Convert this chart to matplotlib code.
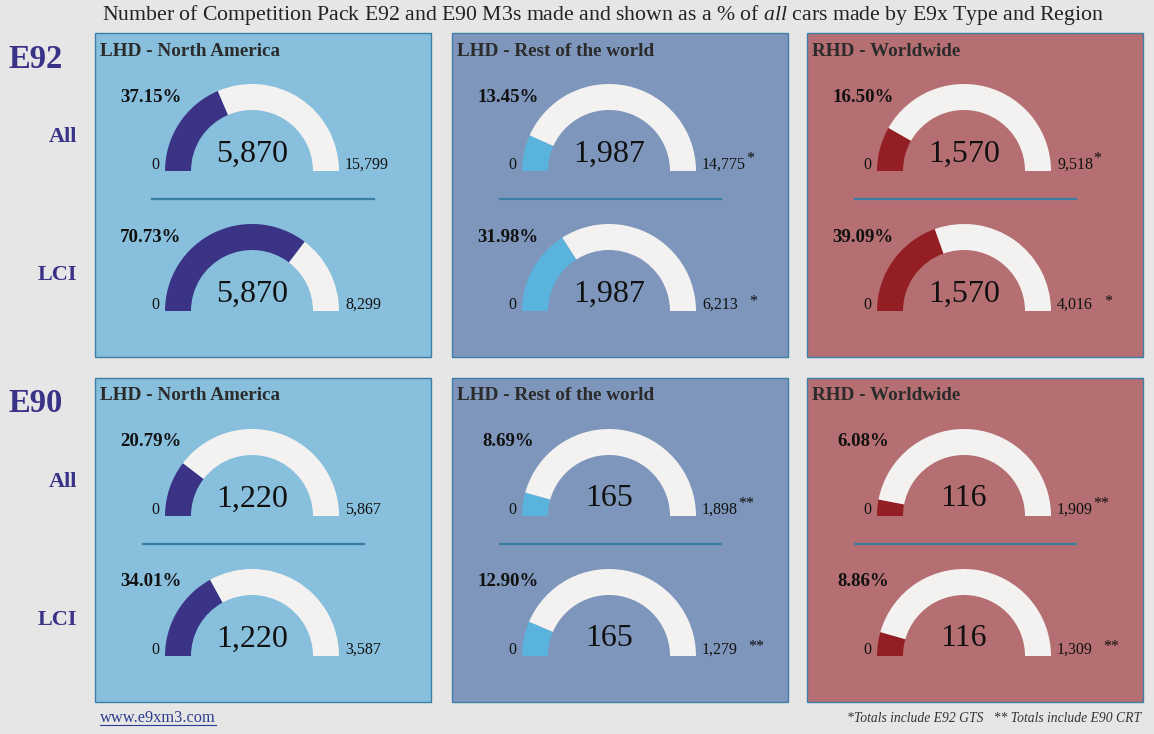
import matplotlib
matplotlib.use('Agg')
import matplotlib.pyplot as plt
from matplotlib.patches import Rectangle, Wedge

plt.rcParams['font.family'] = ['Liberation Serif', 'DejaVu Serif']
plt.rcParams['mathtext.fontset'] = 'custom'
plt.rcParams['mathtext.rm'] = 'Liberation Serif'
plt.rcParams['mathtext.it'] = 'Liberation Serif:italic'

# data
models = ['E92', 'E90']
regions = ['LHD - North America', 'LHD - Rest of the world', 'RHD - Worldwide']
trims = ['All', 'LCI']

e92_made = [5870, 1987, 1570]
e92_all = [15799, 14775, 9518]
e92_lci = [8299, 6213, 4016]
e92_marks = ['', '*', '*']

e90_made = [1220, 165, 116]
e90_all = [5867, 1898, 1909]
e90_lci = [3587, 1279, 1309]
e90_marks = ['', '**', '**']

made = [e92_made, e90_made]
totals = [[e92_all, e92_lci], [e90_all, e90_lci]]
marks = [e92_marks, e90_marks]

# styles
bg = '#e6e6e6'
panel_colors = ['#87bfdc', '#7e96bb', '#b56f72']
fill_colors = ['#3a3386', '#5ab3dc', '#931f25']
track = '#f3f2f1'
edge = '#3d7fa8'
label_col = '#3a3287'

fig = plt.figure(figsize=(11.54, 7.34), dpi=100, facecolor=bg)
ax = fig.add_axes([0, 0, 1, 1])
ax.set_xlim(0, 1154)
ax.set_ylim(734, 0)
ax.axis('off')

panel_x = [95, 452, 807]
row_y = [33, 378]
pw, ph = 336, 324
R, W = 87, 26
sep_off = {(0, 0): (57, 279)}

for m, model in enumerate(models):
    py = row_y[m]
    ax.text(36, py + 26, model, fontsize=23.5, fontweight='bold', color=label_col,
            ha='center', va='center')
    for t, trim in enumerate(trims):
        ax.text(77, py + 104 + t * 138, trim, fontsize=16, fontweight='bold',
                color=label_col, ha='right', va='center')
    for r, region in enumerate(regions):
        px = panel_x[r]
        ax.add_patch(Rectangle((px, py), pw, ph, facecolor=panel_colors[r],
                               edgecolor=edge, lw=1.0))
        ax.text(px + 5, py + 18, region, fontsize=13.8, fontweight='bold',
                color='#2b2b2b', ha='left', va='center')
        s0, s1 = sep_off.get((m, r), (48, 269))
        ax.plot([px + s0, px + s1], [py + 166, py + 166], color='#3a7fa3', lw=1.6)
        cx = px + 157
        for t in range(2):
            cy = py + 138 + t * 140
            n = made[m][r]
            tot = totals[m][t][r]
            frac = n / tot
            ang = 180 + 180 * frac
            ax.add_patch(Wedge((cx, cy), R, 180, ang, width=W,
                               facecolor=fill_colors[r], edgecolor='none'))
            ax.add_patch(Wedge((cx, cy), R, ang, 360, width=W,
                               facecolor=track, edgecolor='none'))
            ax.text(cx - 101, cy - 74, f'{frac * 100:.2f}%', fontsize=13.6,
                    fontweight='bold', color='#111111', ha='center', va='center')
            ax.text(cx, cy - 17, f'{n:,}', fontsize=23, color='#111111',
                    ha='center', va='center')
            ax.text(cx - 93, cy - 6, '0', fontsize=11.5, color='#111111',
                    ha='right', va='center')
            mx = ax.text(cx + 93, cy - 6, f'{tot:,}', fontsize=11.5, color='#111111',
                         ha='left', va='center')
            mk = marks[m][r]
            if mk:
                if t == 0:
                    ax.annotate(mk, xy=(1, 0.4), xycoords=mx, xytext=(0.5, 0),
                                textcoords='offset points', fontsize=11.5,
                                color='#111111', ha='left', va='bottom')
                else:
                    ax.text(cx + 140 - (1 if len(mk) > 1 else 0), cy - 9, mk,
                            fontsize=11.5, color='#111111', ha='left', va='center')

ax.text(603, 15, r'Number of Competition Pack E92 and E90 M3s made and shown as a % of $\it{all}$ cars made by E9x Type and Region',
        fontsize=15.7, color='#222222', ha='center', va='center')

link = ax.text(100, 718, 'www.e9xm3.com', fontsize=11.8, color='#2e3d8f',
               ha='left', va='center')
ax.text(1141, 718, '*Totals include E92 GTS   ** Totals include E90 CRT',
        fontsize=9.8, style='italic', color='#333333', ha='right', va='center')

fig.canvas.draw()
bb = link.get_window_extent().transformed(ax.transData.inverted())
ax.plot([bb.x0, bb.x1], [bb.y0 - 1, bb.y0 - 1], color='#2e3d8f', lw=0.8)

fig.savefig('out.png', dpi=100, facecolor=bg)
